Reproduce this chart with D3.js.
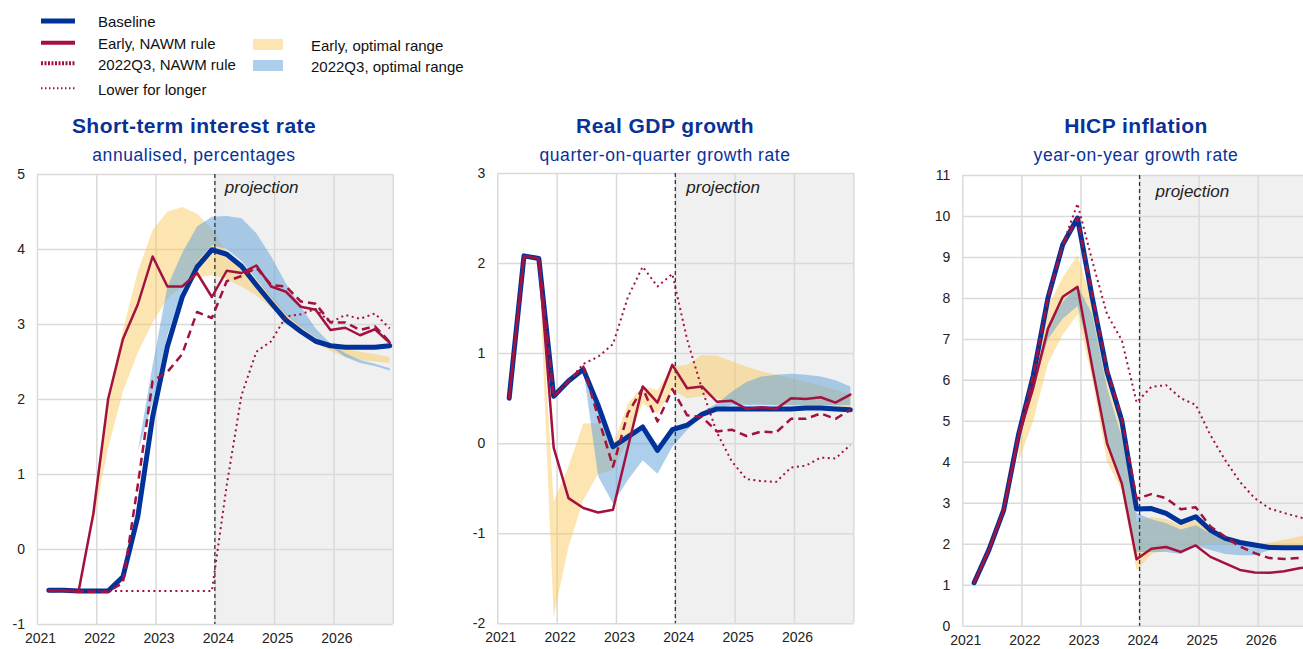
<html>
<head>
<meta charset="utf-8">
<script src="https://d3js.org/d3.v7.min.js"></script>
<style>
  body { margin: 0; background: #fff; overflow: hidden; }
  svg text { font-family: "Liberation Sans", Arial, sans-serif; }
</style>
</head>
<body>
<script>
// quarters 2021Q1 .. 2026Q4
var quarters = [];
for (var yr = 2021; yr <= 2026; yr++) for (var q = 1; q <= 4; q++) quarters.push(yr + "Q" + q);

// short-term interest rate
var rateBaseline = [-0.55,-0.55,-0.56,-0.56,-0.56,-0.37,0.43,1.76,2.7,3.36,3.76,3.99,3.93,3.77,3.52,3.28,3.05,2.9,2.77,2.71,2.69,2.69,2.69,2.71];
var rateEarly    = [-0.55,-0.55,-0.57,0.47,2.0,2.8,3.26,3.9,3.5,3.5,3.68,3.36,3.71,3.68,3.78,3.5,3.43,3.23,3.19,2.92,2.95,2.85,2.93,2.75];
var rateQ3       = [-0.56,-0.56,-0.57,-0.57,-0.57,-0.45,0.85,2.24,2.36,2.6,3.16,3.08,3.57,3.64,3.75,3.52,3.5,3.3,3.27,3.02,3.02,2.92,2.97,2.76];
var rateLower    = [-0.56,-0.56,-0.56,-0.56,-0.56,-0.56,-0.56,-0.56,-0.56,-0.56,-0.56,-0.56,0.85,2.05,2.63,2.77,3.1,3.13,3.2,3.02,3.12,3.07,3.14,2.94];
var rateEarlyHi  = [null,null,null,0.6,2.05,2.92,3.7,4.25,4.5,4.56,4.47,4.27,3.95,3.8,3.6,3.38,3.15,2.97,2.82,2.72,2.67,2.63,2.6,2.56];
var rateEarlyLo  = [null,null,null,0.35,1.35,2.1,2.62,3.02,3.34,3.5,3.62,3.65,3.6,3.5,3.38,3.22,3.05,2.9,2.76,2.64,2.56,2.52,2.5,2.48];
var rateQ3Hi     = [null,null,null,null,null,null,1.3,2.45,3.5,3.95,4.3,4.43,4.44,4.41,4.21,3.9,3.54,3.23,2.94,2.74,2.61,2.52,2.47,2.41];
var rateQ3Lo     = [null,null,null,null,null,null,1.3,1.95,2.85,3.45,3.83,4.05,4.0,3.84,3.6,3.35,3.12,2.96,2.82,2.7,2.56,2.48,2.44,2.38];

// real GDP growth
var gdpBaseline = [0.50,2.08,2.05,0.52,0.69,0.82,0.42,-0.04,0.07,0.18,-0.08,0.15,0.20,0.32,0.38,0.38,0.38,0.38,0.38,0.38,0.39,0.39,0.38,0.37];
var gdpEarly    = [0.50,2.08,2.05,-0.05,-0.61,-0.72,-0.77,-0.74,-0.05,0.63,0.45,0.87,0.61,0.63,0.46,0.47,0.38,0.40,0.38,0.50,0.49,0.51,0.45,0.54];
var gdpQ3       = [0.50,2.08,2.05,0.52,0.69,0.85,0.29,-0.26,0.33,0.61,0.24,0.60,0.31,0.29,0.13,0.15,0.08,0.13,0.12,0.27,0.27,0.33,0.27,0.37];
var gdpLower    = [0.50,2.08,2.05,0.52,0.69,0.88,0.96,1.1,1.62,1.96,1.74,1.88,1.15,0.6,0.12,-0.2,-0.4,-0.42,-0.43,-0.27,-0.25,-0.16,-0.17,-0.02];
var gdpEarlyHi  = [null,null,2.05,-0.65,-0.26,0.22,0.22,-0.02,0.44,0.63,0.59,0.85,0.87,0.98,0.97,0.91,0.85,0.8,0.76,0.72,0.68,0.64,0.59,0.54];
var gdpEarlyLo  = [null,null,2.05,-1.93,-1.15,-0.63,-0.34,-0.3,0.03,0.44,0.33,0.59,0.5,0.52,0.5,0.46,0.44,0.44,0.42,0.42,0.41,0.40,0.40,0.39];
var gdpQ3Hi     = [null,null,null,null,null,0.82,0.45,-0.02,0.05,0.15,-0.05,0.15,0.22,0.35,0.44,0.57,0.68,0.74,0.76,0.77,0.76,0.74,0.70,0.63];
var gdpQ3Lo     = [null,null,null,null,null,0.82,-0.37,-0.67,-0.41,-0.19,-0.34,-0.04,0.15,0.3,0.38,0.42,0.42,0.42,0.42,0.42,0.42,0.42,0.42,0.42];

// HICP inflation
var hicpBaseline = [1.05,1.85,2.82,4.65,6.1,8.0,9.3,9.95,8.0,6.2,5.0,2.85,2.86,2.74,2.52,2.66,2.33,2.13,2.03,1.97,1.91,1.9,1.9,1.9];
var hicpEarly    = [1.05,1.85,2.82,4.6,5.8,7.25,8.03,8.27,6.3,4.45,3.47,1.62,1.88,1.92,1.8,1.96,1.68,1.52,1.36,1.3,1.29,1.33,1.4,1.45];
var hicpQ3       = [1.05,1.85,2.82,4.65,6.1,8.0,9.3,9.95,8.05,6.25,5.05,3.1,3.21,3.11,2.84,2.89,2.42,2.17,1.93,1.77,1.65,1.63,1.65,1.65];
var hicpLower    = [1.05,1.85,2.82,4.65,6.1,8.0,9.3,10.3,8.9,7.6,6.97,5.45,5.83,5.87,5.55,5.39,4.65,4.04,3.51,3.11,2.86,2.75,2.65,2.55];
var hicpEarlyHi  = [null,null,null,4.7,6.2,7.8,8.5,9.05,7.9,6.1,4.9,2.55,2.65,2.6,2.45,2.58,2.3,2.1,2.02,2.0,2.03,2.1,2.18,2.25];
var hicpEarlyLo  = [null,null,null,4.0,5.0,6.4,7.1,7.6,6.0,4.0,3.3,1.35,1.75,1.85,1.85,1.95,2.0,1.98,1.95,1.92,1.9,1.9,1.92,1.95];
var hicpQ3Hi     = [null,null,null,null,5.9,7.3,7.9,8.3,7.6,5.8,4.6,2.75,2.6,2.5,2.35,2.45,2.25,2.1,2.0,1.95,1.9,1.9,null,null];
var hicpQ3Lo     = [null,null,null,null,5.8,7.0,7.5,7.8,6.4,4.5,3.5,1.8,1.8,1.8,1.75,1.95,1.85,1.75,1.72,1.72,1.85,1.9,null,null];

var years = [2021, 2022, 2023, 2024, 2025, 2026, 2027];
var projStart = 2024;

var blue = "#003299", red = "#a3123f";
var yellowFill = "#f9c650", blueFill = "#5c9fd9";

var svg = d3.select("body").append("svg").attr("width", 1303).attr("height", 649);

// quarter label -> position in years
function qt(label) { return +label.slice(0, 4) + (+label.slice(5) - 0.2) / 4; }

function make_panel(cfg) {
  var x = d3.scaleLinear().domain([2021, 2027]).range([cfg.x0, cfg.x1]);
  var y = d3.scaleLinear().domain(cfg.yDomain).range([cfg.y1, cfg.y0]);
  var g = svg.append("g");

  // projection shading
  g.append("rect")
    .attr("x", x(projStart)).attr("y", cfg.y0)
    .attr("width", x(2027) - x(projStart)).attr("height", cfg.y1 - cfg.y0)
    .attr("fill", "#f0f0f0");

  // grid + axes
  var ya = g.append("g").attr("transform", "translate(" + cfg.x0 + ",0)")
    .call(d3.axisLeft(y).tickValues(d3.range(cfg.yDomain[0], cfg.yDomain[1] + 1))
      .tickSize(-(cfg.x1 - cfg.x0)).tickPadding(12)
      .tickFormat(function (d) { return String(d); }));
  var xa = g.append("g").attr("transform", "translate(0," + cfg.y1 + ")")
    .call(d3.axisBottom(x).tickValues(years).tickSize(-(cfg.y1 - cfg.y0)).tickPadding(9)
      .tickFormat(function (d) { return d < 2027 ? d : ""; }));
  [ya, xa].forEach(function (a) {
    a.select(".domain").remove();
    a.selectAll("line").attr("stroke", "#dadada").attr("stroke-width", 1.5);
    a.selectAll("text").attr("fill", "#222").style("font-size", "14px");
  });
  xa.selectAll("text").attr("dx", 3);

  // bands
  function band(hi, lo, fill, op) {
    var rows = quarters.map(function (qq, i) { return { t: qt(qq), hi: hi[i], lo: lo[i] }; });
    g.append("path").datum(rows)
      .attr("fill", fill).attr("fill-opacity", op)
      .attr("d", d3.area().defined(function (d) { return d.hi != null; })
        .x(function (d) { return x(d.t); })
        .y0(function (d) { return y(d.lo); })
        .y1(function (d) { return y(d.hi); }));
  }
  band(cfg.earlyHi, cfg.earlyLo, yellowFill, 0.45);
  band(cfg.q3Hi, cfg.q3Lo, blueFill, 0.5);

  // projection divider
  g.append("line")
    .attr("x1", x(projStart)).attr("x2", x(projStart))
    .attr("y1", cfg.y0).attr("y2", cfg.y1)
    .attr("stroke", "#333").attr("stroke-width", 1.3).attr("stroke-dasharray", "4,3");

  var line = d3.line()
    .x(function (d, i) { return x(qt(quarters[i])); })
    .y(function (d) { return y(d); });

  function series(vals, col, w, dash, cap) {
    g.append("path").datum(vals)
      .attr("fill", "none").attr("stroke", col).attr("stroke-width", w)
      .attr("stroke-dasharray", dash).attr("stroke-linejoin", "round")
      .attr("stroke-linecap", cap || "butt")
      .attr("d", line);
  }
  series(cfg.baseline, blue, 5, null, "round");
  series(cfg.lower, red, 2, "2,3.5");
  series(cfg.early, red, 2.5, null, "round");
  series(cfg.q3, red, 2.5, "8,5");

  g.append("text").text("projection")
    .attr("x", x(projStart) + cfg.projDx).attr("y", cfg.projY)
    .style("font-size", "17px").style("font-style", "italic").attr("fill", "#222");

  // titles
  g.append("text").text(cfg.title)
    .attr("x", cfg.cx).attr("y", 133).attr("text-anchor", "middle")
    .style("font-size", "21px").style("font-weight", "bold").style("letter-spacing", "0.45px")
    .attr("fill", "#0a3296");
  g.append("text").text(cfg.subtitle)
    .attr("x", cfg.cx).attr("y", 161).attr("text-anchor", "middle")
    .style("font-size", "17.5px").style("letter-spacing", "0.55px")
    .attr("fill", "#0a3296");
}

make_panel({
  x0: 37, x1: 392.7, y0: 174, y1: 624, yDomain: [-1, 5],
  title: "Short-term interest rate", subtitle: "annualised, percentages", cx: 194,
  projDx: 10, projY: 193,
  baseline: rateBaseline, early: rateEarly, q3: rateQ3, lower: rateLower,
  earlyHi: rateEarlyHi, earlyLo: rateEarlyLo, q3Hi: rateQ3Hi, q3Lo: rateQ3Lo
});
make_panel({
  x0: 497.3, x1: 853.3, y0: 173, y1: 623.3, yDomain: [-2, 3],
  title: "Real GDP growth", subtitle: "quarter-on-quarter growth rate", cx: 665,
  projDx: 11, projY: 193,
  baseline: gdpBaseline, early: gdpEarly, q3: gdpQ3, lower: gdpLower,
  earlyHi: gdpEarlyHi, earlyLo: gdpEarlyLo, q3Hi: gdpQ3Hi, q3Lo: gdpQ3Lo
});
make_panel({
  x0: 962.3, x1: 1316.8, y0: 175, y1: 625.7, yDomain: [0, 11],
  title: "HICP inflation", subtitle: "year-on-year growth rate", cx: 1136,
  projDx: 16, projY: 197,
  baseline: hicpBaseline, early: hicpEarly, q3: hicpQ3, lower: hicpLower,
  earlyHi: hicpEarlyHi, earlyLo: hicpEarlyLo, q3Hi: hicpQ3Hi, q3Lo: hicpQ3Lo
});

// legend
var leg = svg.append("g").style("font-size", "15px");
var legLines = [
  { name: "Baseline", col: blue, w: 5, dash: null, y: 21 },
  { name: "Early, NAWM rule", col: red, w: 4, dash: null, y: 42.7 },
  { name: "2022Q3, NAWM rule", col: red, w: 4, dash: "2,1.5", y: 63.3 },
  { name: "Lower for longer", col: red, w: 2, dash: "1.5,2.5", y: 88.3 }
];
legLines.forEach(function (d) {
  leg.append("line").attr("x1", 41).attr("x2", 75).attr("y1", d.y).attr("y2", d.y)
    .attr("stroke", d.col).attr("stroke-width", d.w).attr("stroke-dasharray", d.dash);
  leg.append("text").text(d.name).attr("x", 98).attr("y", d.y + 1).attr("dy", "0.35em").attr("fill", "#111");
});
var legBands = [
  { name: "Early, optimal range", col: yellowFill, op: 0.45, y: 44.5 },
  { name: "2022Q3, optimal range", col: blueFill, op: 0.5, y: 65.5 }
];
legBands.forEach(function (d) {
  leg.append("rect").attr("x", 253).attr("y", d.y - 5.5).attr("width", 30).attr("height", 11)
    .attr("fill", d.col).attr("fill-opacity", d.op);
  leg.append("text").text(d.name).attr("x", 311).attr("y", d.y + 1).attr("dy", "0.35em").attr("fill", "#111");
});
</script>
</body>
</html>
